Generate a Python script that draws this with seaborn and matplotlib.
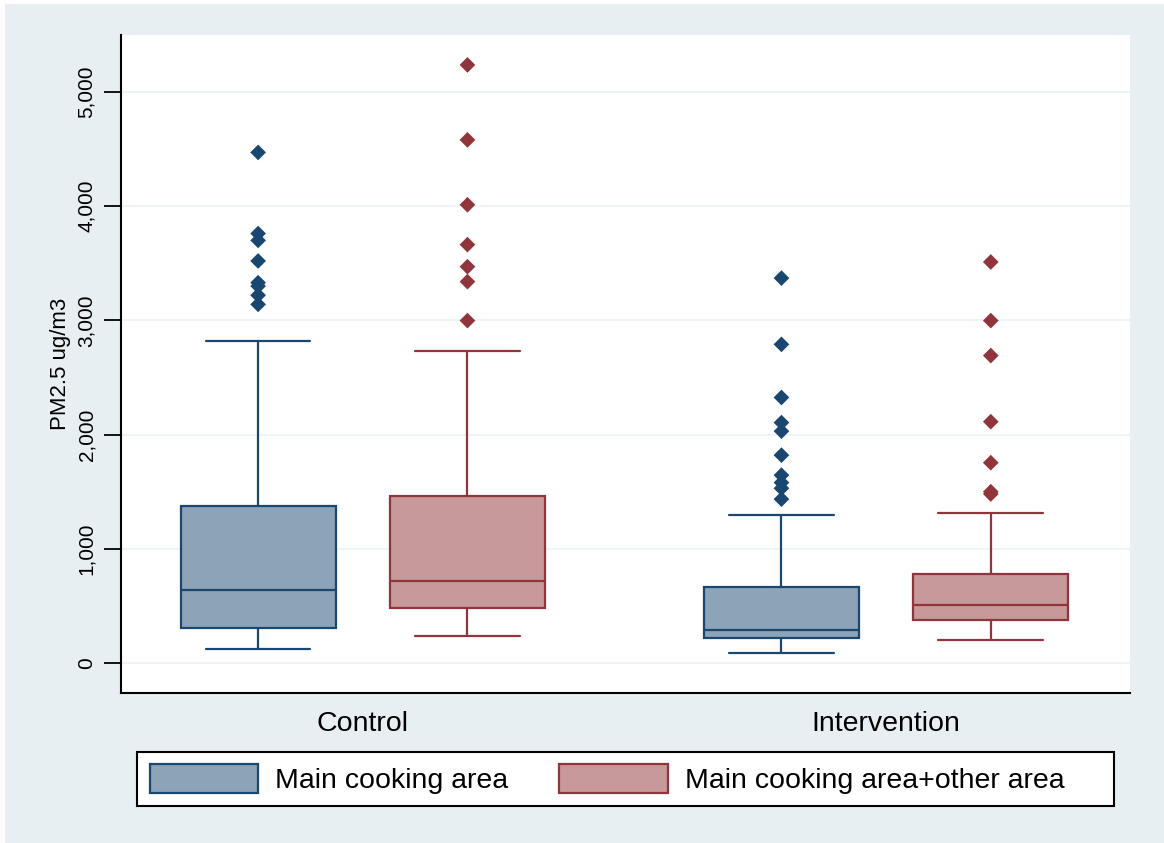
import numpy as np
import pandas as pd
import matplotlib
matplotlib.use("Agg")
import matplotlib.pyplot as plt
import matplotlib.ticker as mticker
from matplotlib.patches import Patch, Rectangle
import seaborn as sns

# ------------------------------------------------------------
# Data (PM2.5, ug/m3)
# order: Control/main, Control/main+other, Interv/main, Interv/main+other
# ------------------------------------------------------------
groups = ["Control", "Intervention"]
areas = ["Main cooking area", "Main cooking area+other area"]

box_group = ["Control", "Control", "Intervention", "Intervention"]
box_area = [areas[0], areas[1], areas[0], areas[1]]
whisk_lo = [122, 236, 87, 201]
q1 = [306, 481, 219, 376]
median = [638, 717, 288, 507]
q3 = [1372, 1460, 664, 778]
whisk_hi = [2815, 2736, 1294, 1311]

out_ctrl_main = [4470, 3760, 3700, 3520, 3330, 3300, 3220, 3140]
out_ctrl_other = [5236, 4580, 4012, 3663, 3470, 3339, 2998]
out_int_main = [3370, 2790, 2325, 2105, 2030, 1820, 1645, 1580, 1530, 1435]
out_int_other = [3511, 2998, 2692, 2113, 1754, 1500, 1480]

fill_colors = {areas[0]: "#8DA3B8", areas[1]: "#C8999B"}
edge_colors = {areas[0]: "#1A476F", areas[1]: "#90353B"}
bg = "#E8EFF2"

# long tables for seaborn
rows = []
for i in range(len(box_group)):
    for v in (whisk_lo[i], q1[i], median[i], q3[i], whisk_hi[i]):
        rows.append((box_group[i], box_area[i], v))
box_df = pd.DataFrame(rows, columns=["group", "area", "value"])

out_rows = []
for g, a, vals in [("Control", areas[0], out_ctrl_main),
                   ("Control", areas[1], out_ctrl_other),
                   ("Intervention", areas[0], out_int_main),
                   ("Intervention", areas[1], out_int_other)]:
    out_rows += [(g, a, v) for v in vals]
out_df = pd.DataFrame(out_rows, columns=["group", "area", "value"])

# ------------------------------------------------------------
# Plot
# ------------------------------------------------------------
sns.set_style("white")
plt.rcParams["font.family"] = ["Liberation Sans", "DejaVu Sans"]
plt.rcParams["text.color"] = "black"
plt.rcParams["axes.labelcolor"] = "black"
plt.rcParams["xtick.color"] = "black"
plt.rcParams["ytick.color"] = "black"

W, H = 1164, 843
fig = plt.figure(figsize=(W / 100, H / 100), dpi=100, facecolor=bg)
# thin white margin at the top/left of the Stata export
fig.patches.append(Rectangle((0, 1 - 4 / H), 1, 4 / H, transform=fig.transFigure,
                             facecolor="white", edgecolor="none", zorder=-5))
fig.patches.append(Rectangle((0, 0), 5 / W, 1, transform=fig.transFigure,
                             facecolor="white", edgecolor="none", zorder=-5))

ax = fig.add_axes([121 / W, 1 - 693 / H, (1130 - 121) / W, (693 - 35) / H])
ax.set_facecolor("white")

for a in areas:
    sns.boxplot(data=box_df[box_df["area"] == a], x="group", y="value",
                hue="area", hue_order=areas, order=groups,
                palette=fill_colors, linecolor=edge_colors[a], saturation=1,
                whis=(0, 100), width=0.8, gap=0.26, dodge=True,
                linewidth=1.6, showfliers=False, legend=False, ax=ax)

# Stata-style caps are wider than seaborn's default
for ln in ax.lines:
    x, y = np.asarray(ln.get_xdata(), float), np.asarray(ln.get_ydata(), float)
    if len(x) == 2 and y[0] == y[1] and 0 < abs(x[1] - x[0]) < 0.25:
        c = x.mean()
        ln.set_xdata([c - 0.1, c + 0.1])

sns.stripplot(data=out_df, x="group", y="value", hue="area",
              hue_order=areas, order=groups, palette=edge_colors,
              dodge=True, jitter=False, marker="D", size=8,
              linewidth=0, legend=False, ax=ax)

ax.set_xlim(-0.462, 1.466)
ax.set_ylim(-262, 5498)
ax.set_yticks([0, 1000, 2000, 3000, 4000, 5000])
ax.yaxis.set_major_formatter(mticker.StrMethodFormatter("{x:,.0f}"))
ax.grid(axis="y", color="#EAF2F3", linewidth=1.2)
ax.set_axisbelow(True)

for s in ["top", "right"]:
    ax.spines[s].set_visible(False)
for s in ["left", "bottom"]:
    ax.spines[s].set_color("black")
    ax.spines[s].set_linewidth(1.5)

ax.tick_params(axis="y", direction="out", length=12, width=1.3,
               color="black", labelsize=15, pad=6, left=True)
ax.tick_params(axis="x", length=0, labelsize=20.5, pad=13)
for lab in ax.get_yticklabels():
    lab.set_rotation(90)
    lab.set_va("center")
ax.set_xlabel("")
ax.set_ylabel("PM2.5 ug/m3", fontsize=16, labelpad=4)

# legend box (Stata leaves extra room on the right, so draw the frame separately)
fig.patches.append(Rectangle((137 / W, 1 - 806 / H), (1114 - 137) / W, (806 - 752) / H,
                             transform=fig.transFigure, facecolor="white",
                             edgecolor="black", linewidth=1.5, zorder=1))
handles = [Patch(facecolor=fill_colors[a], edgecolor=edge_colors[a], linewidth=1.6) for a in areas]
leg = fig.legend(handles, areas, loc="center left", bbox_to_anchor=(137 / W, 1 - 779 / H),
                 ncol=2, fontsize=20.5, frameon=False, borderaxespad=0,
                 handlelength=3.8, handleheight=1.2, columnspacing=1.8,
                 borderpad=0.45, handletextpad=0.6)
leg.set_zorder(2)

fig.savefig("out.png", dpi=100, facecolor=bg)
